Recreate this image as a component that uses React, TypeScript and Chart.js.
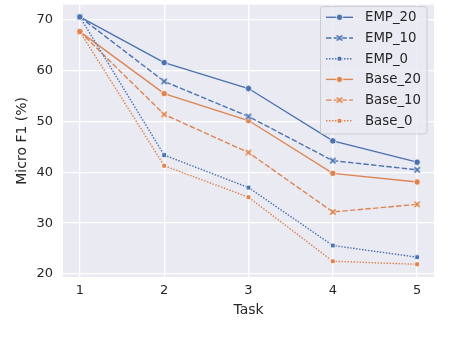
import React, { useEffect, useRef } from "react";
import { Chart, registerables } from "chart.js";

Chart.register(...registerables);

const tasks = [1, 2, 3, 4, 5];
const yTicks = [20, 30, 40, 50, 60, 70];
const emp20 = [70.6, 61.6, 56.5, 46.2, 42.0];
const emp10 = [70.6, 57.9, 51.0, 42.3, 40.5];
const emp0 = [70.6, 43.4, 37.0, 25.6, 23.3];
const base20 = [67.7, 55.5, 50.2, 39.8, 38.1];
const base10 = [67.7, 51.4, 43.9, 32.2, 33.7];
const base0 = [67.7, 41.3, 35.1, 22.5, 21.9];
const seriesLabels = ["EMP_20", "EMP_10", "EMP_0", "Base_20", "Base_10", "Base_0"];

const BLUE = "#4C72B0";
const ORANGE = "#DD8452";
const TEXT = "#262626";
const FONT = "'DejaVu Sans', sans-serif";

type Style = { dash: number[]; point: string };
const styles: Style[] = [
  { dash: [], point: "circle" },
  { dash: [5.5, 2.2], point: "x" },
  { dash: [1.5, 1.5], point: "rect" },
];

function makeX(color: string): HTMLCanvasElement {
  const c = document.createElement("canvas");
  c.width = 10;
  c.height = 10;
  const g = c.getContext("2d") as CanvasRenderingContext2D;
  const m = 5, a = 2.7;
  g.lineCap = "butt";
  g.strokeStyle = "#ffffff";
  g.lineWidth = 2.9;
  g.beginPath();
  g.moveTo(m - a, m - a); g.lineTo(m + a, m + a);
  g.moveTo(m - a, m + a); g.lineTo(m + a, m - a);
  g.stroke();
  g.strokeStyle = color;
  g.lineWidth = 1.8;
  g.beginPath();
  g.moveTo(m - a, m - a); g.lineTo(m + a, m + a);
  g.moveTo(m - a, m + a); g.lineTo(m + a, m - a);
  g.stroke();
  return c;
}

function drawMarker(ctx: CanvasRenderingContext2D, kind: string, x: number, y: number, color: string, xImg: HTMLCanvasElement) {
  ctx.save();
  ctx.setLineDash([]);
  if (kind === "circle") {
    ctx.beginPath();
    ctx.arc(x, y, 3.2, 0, Math.PI * 2);
    ctx.fillStyle = color;
    ctx.fill();
    ctx.strokeStyle = "#ffffff";
    ctx.lineWidth = 0.8;
    ctx.stroke();
  } else if (kind === "rect") {
    ctx.fillStyle = color;
    ctx.fillRect(x - 2.3, y - 2.3, 4.6, 4.6);
    ctx.strokeStyle = "#ffffff";
    ctx.lineWidth = 0.6;
    ctx.strokeRect(x - 2.3, y - 2.3, 4.6, 4.6);
  } else {
    ctx.drawImage(xImg, x - 5, y - 5);
  }
  ctx.restore();
}

const bgPlugin = {
  id: "bgPlugin",
  beforeDraw(chart: any) {
    const { ctx, chartArea } = chart;
    ctx.save();
    ctx.fillStyle = "#EAEAF2";
    ctx.fillRect(chartArea.left, chartArea.top, chartArea.right - chartArea.left, chartArea.bottom - chartArea.top);
    ctx.restore();
  },
};

export default function App() {
  const canvasRef = useRef<HTMLCanvasElement>(null);

  useEffect(() => {
    document.body.style.margin = "0";
    const xBlue = makeX(BLUE);
    const xOrange = makeX(ORANGE);
    const all = [emp20, emp10, emp0, base20, base10, base0];
    const datasets = all.map((vals, i) => {
      const color = i < 3 ? BLUE : ORANGE;
      const st = styles[i % 3];
      const isCross = st.point === "x";
      return {
        label: seriesLabels[i],
        data: vals.map((v, j) => ({ x: tasks[j], y: v })),
        borderColor: color,
        backgroundColor: color,
        borderWidth: 1.4,
        borderDash: st.dash,
        pointStyle: isCross ? (i < 3 ? xBlue : xOrange) : st.point,
        pointRadius: st.point === "circle" ? 3.2 : 3.3,
        pointBackgroundColor: color,
        pointBorderColor: "#ffffff",
        pointBorderWidth: 0.7,
        tension: 0,
        fill: false,
      };
    });

    const legendPlugin = {
      id: "innerLegend",
      afterDraw(chart: any) {
        const { ctx } = chart;
        const x0 = 320.5, y0 = 6.5, w = 106.5, h = 127.5, r = 3;
        ctx.save();
        ctx.beginPath();
        ctx.moveTo(x0 + r, y0);
        ctx.lineTo(x0 + w - r, y0);
        ctx.quadraticCurveTo(x0 + w, y0, x0 + w, y0 + r);
        ctx.lineTo(x0 + w, y0 + h - r);
        ctx.quadraticCurveTo(x0 + w, y0 + h, x0 + w - r, y0 + h);
        ctx.lineTo(x0 + r, y0 + h);
        ctx.quadraticCurveTo(x0, y0 + h, x0, y0 + h - r);
        ctx.lineTo(x0, y0 + r);
        ctx.quadraticCurveTo(x0, y0, x0 + r, y0);
        ctx.closePath();
        ctx.fillStyle = "rgba(234,234,242,0.8)";
        ctx.fill();
        ctx.strokeStyle = "#CCCCCC";
        ctx.lineWidth = 1;
        ctx.stroke();

        seriesLabels.forEach((label, i) => {
          const y = 17.3 + i * 20.7;
          const color = i < 3 ? BLUE : ORANGE;
          const st = styles[i % 3];
          ctx.beginPath();
          ctx.setLineDash(st.dash);
          ctx.strokeStyle = color;
          ctx.lineWidth = 1.4;
          ctx.moveTo(326, y);
          ctx.lineTo(353, y);
          ctx.stroke();
          ctx.setLineDash([]);
          drawMarker(ctx, st.point, 339.5, y, color, i < 3 ? xBlue : xOrange);
          ctx.fillStyle = TEXT;
          ctx.font = `13.3px ${FONT}`;
          ctx.textBaseline = "middle";
          ctx.textAlign = "left";
          ctx.fillText(label, 365, y + 0.5);
        });
        ctx.restore();
      },
    };

    const chart = new Chart(canvasRef.current as HTMLCanvasElement, {
      type: "line",
      data: { datasets } as any,
      options: {
        animation: false,
        responsive: false,
        maintainAspectRatio: false,
        devicePixelRatio: 1,
        layout: { padding: { top: 0, right: 22, left: 0, bottom: 0 } },
        plugins: { legend: { display: false }, tooltip: { enabled: false } },
        scales: {
          x: {
            type: "linear",
            min: 0.8,
            max: 5.2,
            afterBuildTicks: (scale: any) => {
              scale.ticks = tasks.map((v) => ({ value: v }));
            },
            afterFit: (scale: any) => {
              scale.height = 73;
              scale.paddingLeft = 0;
              scale.paddingRight = 0;
              scale.paddingTop = 0;
              scale.paddingBottom = 0;
            },
            border: { display: false },
            grid: { color: "#ffffff", lineWidth: 1.3, drawTicks: false, tickLength: 0 },
            ticks: {
              padding: 6,
              color: TEXT,
              font: { family: FONT, size: 13 },
              maxRotation: 0,
              callback: (v: any) => String(v),
            },
            title: {
              display: true,
              text: "Task",
              color: TEXT,
              font: { family: FONT, size: 14 },
              padding: { top: 0, bottom: 31.5 },
            },
          },
          y: {
            type: "linear",
            min: 19.4,
            max: 73,
            afterBuildTicks: (scale: any) => {
              scale.ticks = yTicks.map((v) => ({ value: v }));
            },
            afterFit: (scale: any) => {
              scale.width = 63;
              scale.paddingLeft = 0;
              scale.paddingRight = 0;
              scale.paddingTop = 0;
              scale.paddingBottom = 0;
            },
            border: { display: false },
            grid: { color: "#ffffff", lineWidth: 1.3, drawTicks: false, tickLength: 0 },
            ticks: {
              padding: 10,
              color: TEXT,
              font: { family: FONT, size: 13 },
              callback: (v: any) => String(v),
            },
            title: {
              display: true,
              text: "Micro F1 (%)",
              color: TEXT,
              font: { family: FONT, size: 14 },
              padding: { top: 13.5, bottom: 0 },
            },
          },
        },
      } as any,
      plugins: [bgPlugin, legendPlugin],
    });
    return () => chart.destroy();
  }, []);

  return (
    <div style={{ position: "absolute", left: 0, top: 0, width: 456, height: 350 }}>
      <canvas ref={canvasRef} width={456} height={350} style={{ width: 456, height: 350, display: "block" }} />
    </div>
  );
}
